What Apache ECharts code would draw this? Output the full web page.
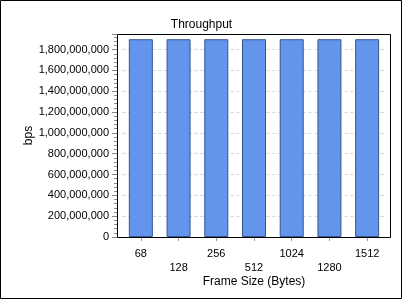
<!DOCTYPE html>
<html><head><meta charset="utf-8">
<script src="https://cdn.jsdelivr.net/npm/echarts@6/dist/echarts.min.js"></script>
<style>html,body{margin:0;padding:0;background:#fff}#c{width:403px;height:300px}</style>
</head><body><div id="c"></div>
<script>
const categories = ['68','128','256','512','1024','1280','1512'];
const throughput = [1900000000,1900000000,1900000000,1900000000,1900000000,1900000000,1900000000];
const yTicks = {min:0, max:1950000000, interval:200000000};

const font = 'Liberation Sans, Arial, sans-serif';
const chart = echarts.init(document.getElementById('c'), null, {renderer:'canvas'});
chart.setOption({
  animation:false,
  backgroundColor:'#fff',
  title:{text:'Throughput', left:'center', top:14, textStyle:{fontFamily:font, fontSize:12, fontWeight:'normal', color:'#000'}},
  grid:{left:122, right:17, top:34, bottom:63, containLabel:false},
  graphic:[
    {type:'rect', shape:{x:0.5,y:0.5,width:401,height:298}, style:{fill:null, stroke:'#000', lineWidth:1}, silent:true},
    {type:'rect', shape:{x:117.5,y:34.5,width:273,height:203}, style:{fill:null, stroke:'#000', lineWidth:1}, silent:true, z:10}
  ],
  xAxis:{
    type:'category', data:categories, boundaryGap:true,
    name:'Frame Size (Bytes)', nameLocation:'middle', nameGap:39, nameMoveOverlap:false,
    nameTextStyle:{fontFamily:font, fontSize:12, color:'#000'},
    axisLine:{show:false},
    axisTick:{show:true, alignWithLabel:true, length:4, lineStyle:{color:'#999'}},
    axisLabel:{interval:0, margin:10, fontFamily:font, fontSize:11, color:'#000', lineHeight:14,
      formatter:(v,i)=> i%2===1 ? '\n'+v : v},
    splitLine:{show:false}
  },
  yAxis:{
    type:'value', min:yTicks.min, max:yTicks.max, interval:yTicks.interval, offset:5,
    name:'bps', nameLocation:'middle', nameGap:82, nameRotate:90, nameMoveOverlap:false,
    nameTextStyle:{fontFamily:font, fontSize:12, color:'#000'},
    axisLine:{show:false},
    axisTick:{show:true, length:5, lineStyle:{color:'#888'}},
    minorTick:{show:true, splitNumber:5, length:3, lineStyle:{color:'#888'}},
    axisLabel:{margin:8, showMaxLabel:false, fontFamily:font, fontSize:11, color:'#000',
      formatter:v=>v.toLocaleString('en-US')},
    splitLine:{show:true, lineStyle:{color:'#ddd', type:'dashed'}}
  },
  series:[{type:'bar', data:throughput, barWidth:24,
    itemStyle:{color:'#6495ED', borderColor:'#34558a', borderWidth:1}}]
});
</script></body></html>
